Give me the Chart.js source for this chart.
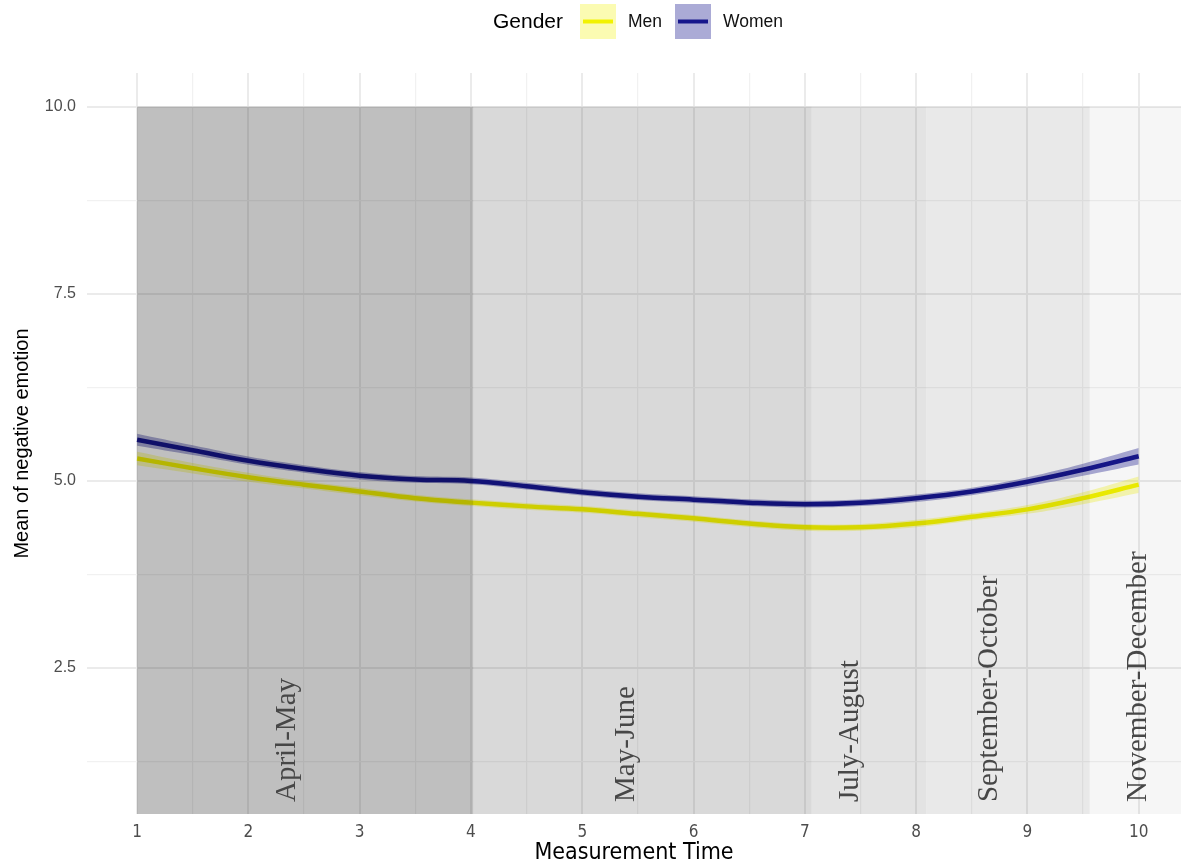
<!DOCTYPE html>
<html>
<head>
<meta charset="utf-8">
<script src="https://cdn.jsdelivr.net/npm/chart.js@4.4.1/dist/chart.umd.min.js"></script>
<style>
  html, body { margin: 0; padding: 0; background: #ffffff; overflow: hidden; }
  #wrap { position: relative; width: 1181px; height: 867px; }
</style>
</head>
<body>
<div id="wrap"><canvas id="chart"></canvas></div>
<script>
// Measurement occasions at which the smoothed curves are evaluated
const measurementTimes = [1, 1.5, 2, 2.5, 3, 3.5, 4, 4.5, 5, 5.5, 6, 6.5, 7, 7.5, 8, 8.5, 9, 9.5, 10];

// Smoothed mean of negative emotion and its confidence band, men
const menMean  = [5.30, 5.17, 5.05, 4.95, 4.86, 4.77, 4.71, 4.66, 4.62, 4.56, 4.50, 4.43, 4.38, 4.38, 4.43, 4.52, 4.62, 4.77, 4.95];
const menLower = [5.21, 5.10, 4.99, 4.90, 4.81, 4.725, 4.665, 4.615, 4.575, 4.515, 4.455, 4.385, 4.335, 4.335, 4.38, 4.47, 4.56, 4.69, 4.84];
const menUpper = [5.39, 5.24, 5.11, 5.00, 4.91, 4.815, 4.755, 4.705, 4.665, 4.605, 4.545, 4.475, 4.425, 4.425, 4.48, 4.57, 4.68, 4.85, 5.06];

// Smoothed mean of negative emotion and its confidence band, women
const womenMean  = [5.55, 5.41, 5.27, 5.16, 5.07, 5.02, 5.00, 4.93, 4.85, 4.79, 4.75, 4.71, 4.69, 4.71, 4.77, 4.86, 4.99, 5.15, 5.33];
const womenLower = [5.47, 5.345, 5.215, 5.11, 5.02, 4.975, 4.955, 4.885, 4.805, 4.745, 4.705, 4.665, 4.645, 4.665, 4.72, 4.81, 4.93, 5.07, 5.22];
const womenUpper = [5.63, 5.475, 5.325, 5.21, 5.12, 5.065, 5.045, 4.975, 4.895, 4.835, 4.795, 4.755, 4.735, 4.755, 4.82, 4.91, 5.05, 5.23, 5.44];

// Calendar periods covered by the measurement occasions
const periodNames  = ['April-May', 'May-June', 'July-August', 'September-October', 'November-December'];
const periodStart  = [1, 4.02, 7.06, 8.09, 9.56];
const periodEnd    = [4.02, 7.06, 8.09, 9.56, 10.45];
const periodTop    = 10;
const periodLabelX = [2.35, 5.40, 7.41, 8.66, 10.0];
const periodLabelY = 0.71;

// Axis ticks
const xMajorTicks = [1, 2, 3, 4, 5, 6, 7, 8, 9, 10];
const xMinorTicks = [1.5, 2.5, 3.5, 4.5, 5.5, 6.5, 7.5, 8.5, 9.5];
const yMajorTicks = [2.5, 5, 7.5, 10];
const yMinorTicks = [1.25, 3.75, 6.25, 8.75];

// Legend entries
const legendTitle = 'Gender';
const seriesNames = ['Men', 'Women'];

// ---- styling ----
const MEN_LINE = '#f2f200';
const MEN_BAND = 'rgba(242, 242, 0, 0.30)';
const WOMEN_LINE = '#16168c';
const WOMEN_BAND = 'rgba(22, 22, 140, 0.36)';
const PERIOD_SHADE = [0.25, 0.15, 0.11, 0.085, 0.035];
const SANS = "'Liberation Sans', Arial, sans-serif";
const NARROW = "'Liberation Sans Narrow', 'DejaVu Sans Condensed', 'Liberation Sans', sans-serif";
const SERIF = "'Liberation Serif', 'DejaVu Serif', serif";

const pts = arr => measurementTimes.map((t, i) => ({ x: t, y: arr[i] }));

const bandStyle = { pointRadius: 0, borderWidth: 0, tension: 0.4 };
const lineStyle = { pointRadius: 0, borderWidth: 4.5, tension: 0.4, fill: false, borderCapStyle: 'butt' };

// Shaded period rectangles (drawn over the curves) and their labels
const periodPlugin = {
  id: 'periods',
  afterDatasetsDraw(chart) {
    const { ctx, chartArea: a, scales: { x, y } } = chart;
    ctx.save();
    ctx.beginPath();
    ctx.rect(a.left, a.top, a.right - a.left, a.bottom - a.top);
    ctx.clip();
    const yTop = y.getPixelForValue(periodTop);
    periodNames.forEach((name, i) => {
      const x0 = x.getPixelForValue(periodStart[i]);
      const x1 = x.getPixelForValue(periodEnd[i]);
      ctx.fillStyle = `rgba(0,0,0,${PERIOD_SHADE[i]})`;
      ctx.fillRect(x0, yTop, x1 - x0, a.bottom - yTop);
    });
    periodNames.forEach((name, i) => {
      const lx = x.getPixelForValue(periodLabelX[i]);
      const ly = y.getPixelForValue(periodLabelY);
      ctx.save();
      ctx.translate(lx, ly);
      ctx.rotate(-Math.PI / 2);
      ctx.font = `29px ${SERIF}`;
      ctx.fillStyle = '#474747';
      ctx.textAlign = 'left';
      ctx.textBaseline = 'middle';
      ctx.fillText(name, 0, 0);
      ctx.restore();
    });
    ctx.restore();
  }
};

// Legend across the top: title, then a key box with a line for each series
const legendPlugin = {
  id: 'genderLegend',
  afterDraw(chart) {
    const ctx = chart.ctx;
    ctx.save();
    ctx.textBaseline = 'middle';
    ctx.textAlign = 'left';
    ctx.fillStyle = '#000000';
    ctx.font = `21px ${SANS}`;
    ctx.fillText(legendTitle, 493, 22);
    const keys = [
      { x: 580, band: MEN_BAND, line: MEN_LINE, label: seriesNames[0], tx: 628 },
      { x: 675, band: WOMEN_BAND, line: WOMEN_LINE, label: seriesNames[1], tx: 723 }
    ];
    keys.forEach(k => {
      ctx.fillStyle = '#ffffff';
      ctx.fillRect(k.x, 4, 36, 35);
      ctx.fillStyle = k.band;
      ctx.fillRect(k.x, 4, 36, 35);
      ctx.strokeStyle = k.line;
      ctx.lineWidth = 4;
      ctx.beginPath();
      ctx.moveTo(k.x + 3, 21.5);
      ctx.lineTo(k.x + 33, 21.5);
      ctx.stroke();
      ctx.fillStyle = '#111111';
      ctx.font = `17.5px ${SANS}`;
      ctx.fillText(k.label, k.tx, 22);
    });
    ctx.restore();
  }
};

const gridColor = ctx => '#ebebeb';

new Chart(document.getElementById('chart'), {
  type: 'line',
  data: {
    datasets: [
      { label: 'Women', data: pts(womenMean), borderColor: WOMEN_LINE, ...lineStyle },
      { label: 'Women upper', data: pts(womenUpper), backgroundColor: WOMEN_BAND, fill: 2, ...bandStyle },
      { label: 'Women lower', data: pts(womenLower), fill: false, ...bandStyle },
      { label: 'Men', data: pts(menMean), borderColor: MEN_LINE, ...lineStyle },
      { label: 'Men upper', data: pts(menUpper), backgroundColor: MEN_BAND, fill: 5, ...bandStyle },
      { label: 'Men lower', data: pts(menLower), fill: false, ...bandStyle }
    ]
  },
  options: {
    responsive: true,
    maintainAspectRatio: false,
    animation: false,
    devicePixelRatio: 1,
    layout: { padding: { top: 73, right: 0, bottom: 0, left: 0 } },
    plugins: {
      legend: { display: false },
      tooltip: { enabled: false }
    },
    scales: {
      x: {
        type: 'linear',
        min: 0.55,
        max: 10.38,
        afterBuildTicks: s => {
          s.ticks = [...xMajorTicks, ...xMinorTicks].sort((a, b) => a - b).map(v => ({ value: v }));
        },
        afterFit: s => { s.height = 53; },
        border: { display: false },
        grid: {
          drawTicks: false,
          color: c => xMajorTicks.includes(c.tick && c.tick.value) ? '#ebebeb' : '#f1f1f1',
          lineWidth: c => xMajorTicks.includes(c.tick && c.tick.value) ? 2 : 1.2
        },
        ticks: {
          autoSkip: false,
          maxRotation: 0,
          padding: 8,
          color: '#4d4d4d',
          font: { family: NARROW, size: 17 },
          callback: v => xMajorTicks.includes(v) ? String(v) : ''
        },
        title: {
          display: true,
          text: 'Measurement Time',
          color: '#000000',
          font: { family: NARROW, size: 23 },
          padding: { top: 0, bottom: 0 }
        }
      },
      y: {
        type: 'linear',
        min: 0.55,
        max: 10.45,
        afterBuildTicks: s => {
          s.ticks = [...yMajorTicks, ...yMinorTicks].sort((a, b) => a - b).map(v => ({ value: v }));
        },
        afterFit: s => { s.width = 87; },
        border: { display: false },
        grid: {
          drawTicks: false,
          color: c => yMajorTicks.includes(c.tick && c.tick.value) ? '#ebebeb' : '#f1f1f1',
          lineWidth: c => yMajorTicks.includes(c.tick && c.tick.value) ? 2 : 1.2
        },
        ticks: {
          padding: 11,
          color: '#4d4d4d',
          font: { family: SANS, size: 16 },
          callback: v => yMajorTicks.includes(v) ? v.toFixed(1) : ''
        },
        title: {
          display: true,
          text: 'Mean of negative emotion',
          color: '#000000',
          font: { family: SANS, size: 20 },
          padding: { top: 10, bottom: 0 }
        }
      }
    }
  },
  plugins: [periodPlugin, legendPlugin]
});
</script>
</body>
</html>
